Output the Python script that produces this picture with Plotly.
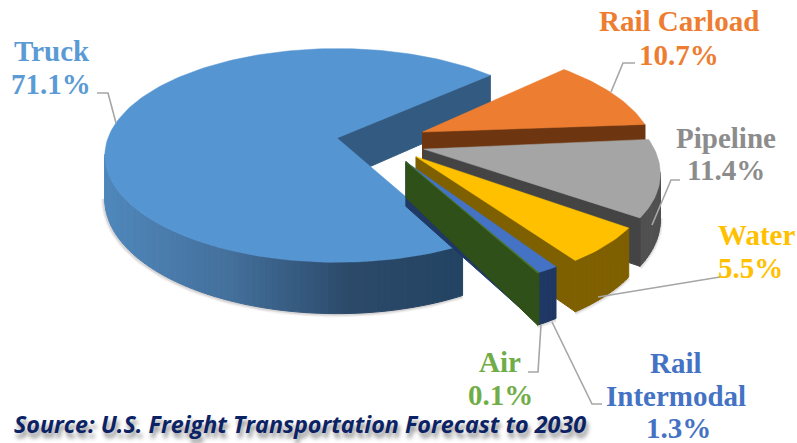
import math
import plotly.graph_objects as go

# ---------- data ----------
categories = ["Truck", "Rail Carload", "Pipeline", "Water", "Rail Intermodal", "Air"]
shares = [71.1, 10.7, 11.4, 5.5, 1.3, 0.1]
label_lines = [["Truck", "71.1%"], ["Rail Carload", "10.7%"], ["Pipeline", "11.4%"],
               ["Water", "5.5%"], ["Rail", "Intermodal", "1.3%"], ["Air", "0.1%"]]
source_text = "Source: U.S. Freight Transportation Forecast to 2030"

# ---------- style ----------
top_colors = ["#5595d2", "#ed7d31", "#a5a5a5", "#ffc000", "#4472c4", "#4f7a2c"]
wall_colors = ["#335b82", "#6e3610", "#444444", "#7f6000", "#1f3864", "#2f5018"]
arc_colors = [None, "#8a4a1c", "#505050", "#7f6000", "#1f3864", "#2f5018"]
label_colors = ["#5b9bd5", "#ed7d31", "#8c8c8c", "#ffc000", "#4472c4", "#70ad47"]
explode = [(0, 0), (.377, .058), (.372, -.105), (.335, -.175), (.29, -.22), (.29, -.22)]
radius = [1, 1, .99, .975, .955, .955]
rotate = [.7, 1.5, 2.5, 1.5, 0, 0]
tip_depth = [1, 1, 1, 1, 1, .8]
label_pos = [[(52, 51), (51, 84)], [(679, 21), (679, 55)], [(726, 138), (726, 170)],
             [(756, 235), (750, 268)], [(676, 363), (676, 396), (678, 428)],
             [(500, 362), (500, 395)]]
leaders = [[(97, 93), (108, 93), (116, 123)], [(635, 63), (623, 63), (611, 92)],
           [(680, 180), (671, 180), (652, 225)], [(720, 277), (598, 297)],
           [(602, 404), (592, 404), (552, 322)], [(528, 372), (538, 372), (541, 325)]]
START_ANGLE = 297.3
CX, CY, F, K, C, H = 337, 138, 229, 104, .163, 43
truck_grad = [(104, (80, 136, 188)), (230, (68, 112, 156)), (350, (44, 74, 106)), (460, (36, 68, 99))]


def project(u, v, z=0):
    w = 1 + C * v
    return CX + F * u / w, CY - K * v / w + H * z / w


def poly(pts, color, width=1):
    xs = [p[0] for p in pts] + [pts[0][0]]
    ys = [p[1] for p in pts] + [pts[0][1]]
    return go.Scatter(x=xs, y=ys, mode="lines", fill="toself", fillcolor=color,
                      line=dict(color=color, width=width), hoverinfo="skip", showlegend=False)


def grad(x):
    for (x0, c0), (x1, c1) in zip(truck_grad, truck_grad[1:]):
        if x <= x1:
            t = max(0, (x - x0) / (x1 - x0))
            return "rgb(%d,%d,%d)" % tuple(a + (b - a) * t for a, b in zip(c0, c1))
    return "rgb(%d,%d,%d)" % truck_grad[-1][1]


fig = go.Figure()
angle = START_ANGLE
for i, share in enumerate(shares):
    sweep = share * 3.6
    ox, oy = explode[i]
    r = radius[i]
    n = max(2, int(sweep / 1.5) + 1)
    angs = [math.radians(angle + rotate[i] - sweep * j / n) for j in range(n + 1)]
    rim = [(ox + r * math.cos(a), oy + r * math.sin(a)) for a in angs]
    tip = (ox, oy)
    # visible stretches of the outer rim
    strips = []
    for (a, b) in zip(rim, rim[1:]):
        pa, pb = project(*a), project(*b)
        if pb[0] < pa[0]:
            strips.append((a, b))
    # soft shadow along the lower rim
    if strips:
        low = [project(*strips[0][0], 1)] + [project(*s[1], 1) for s in strips]
        for lw, al in ((7, .05), (5, .07), (3, .10)):
            fig.add_trace(go.Scatter(x=[p[0] - .5 for p in low], y=[p[1] + .5 for p in low], mode="lines",
                                     line=dict(color="rgba(70,60,50,%g)" % al, width=lw),
                                     hoverinfo="skip", showlegend=False))
    for a, b in strips:
        pts = [project(*a), project(*b), project(*b, 1), project(*a, 1)]
        col = arc_colors[i] or grad((pts[0][0] + pts[1][0]) / 2)
        fig.add_trace(poly(pts, col))
    # cut face at the clockwise end of the slice
    end = rim[-1]
    fig.add_trace(poly([project(*tip), project(*end), project(*end, 1), project(*tip, tip_depth[i])], wall_colors[i]))
    # top surface
    fig.add_trace(poly([project(*tip)] + [project(*p) for p in rim], top_colors[i], .5))
    angle -= sweep

annotations = []
for lines, poss, col in zip(label_lines, label_pos, label_colors):
    for text, (x, y) in zip(lines, poss):
        annotations.append(dict(x=x, y=y, xref="x", yref="y", text=text, showarrow=False,
                                font=dict(family="Liberation Serif", size=29, color=col, weight="bold")))
annotations.append(dict(x=12, y=424, xref="x", yref="y", text="<b><i>%s</i></b>" % source_text, showarrow=False,
                        xanchor="left",
                        font=dict(family="Open Sans", size=23.3, color="#0b2265",
                                  shadow="2px 5px 4px rgba(70,70,70,.6)")))

shapes = []
for pts in leaders:
    path = "M " + " L ".join("%g,%g" % p for p in pts)
    shapes.append(dict(type="path", path=path, xref="x", yref="y", layer="above",
                       line=dict(color="#a6a6a6", width=1.6)))

fig.update_layout(width=797, height=443, margin=dict(l=0, r=0, t=0, b=0),
                  paper_bgcolor="white", plot_bgcolor="white", showlegend=False,
                  xaxis=dict(range=[0, 797], visible=False, fixedrange=True),
                  yaxis=dict(range=[443, 0], visible=False, fixedrange=True),
                  annotations=annotations, shapes=shapes)
fig.write_html("out.html", config={"displayModeBar": False},
               post_script="document.body.style.margin='0';")
